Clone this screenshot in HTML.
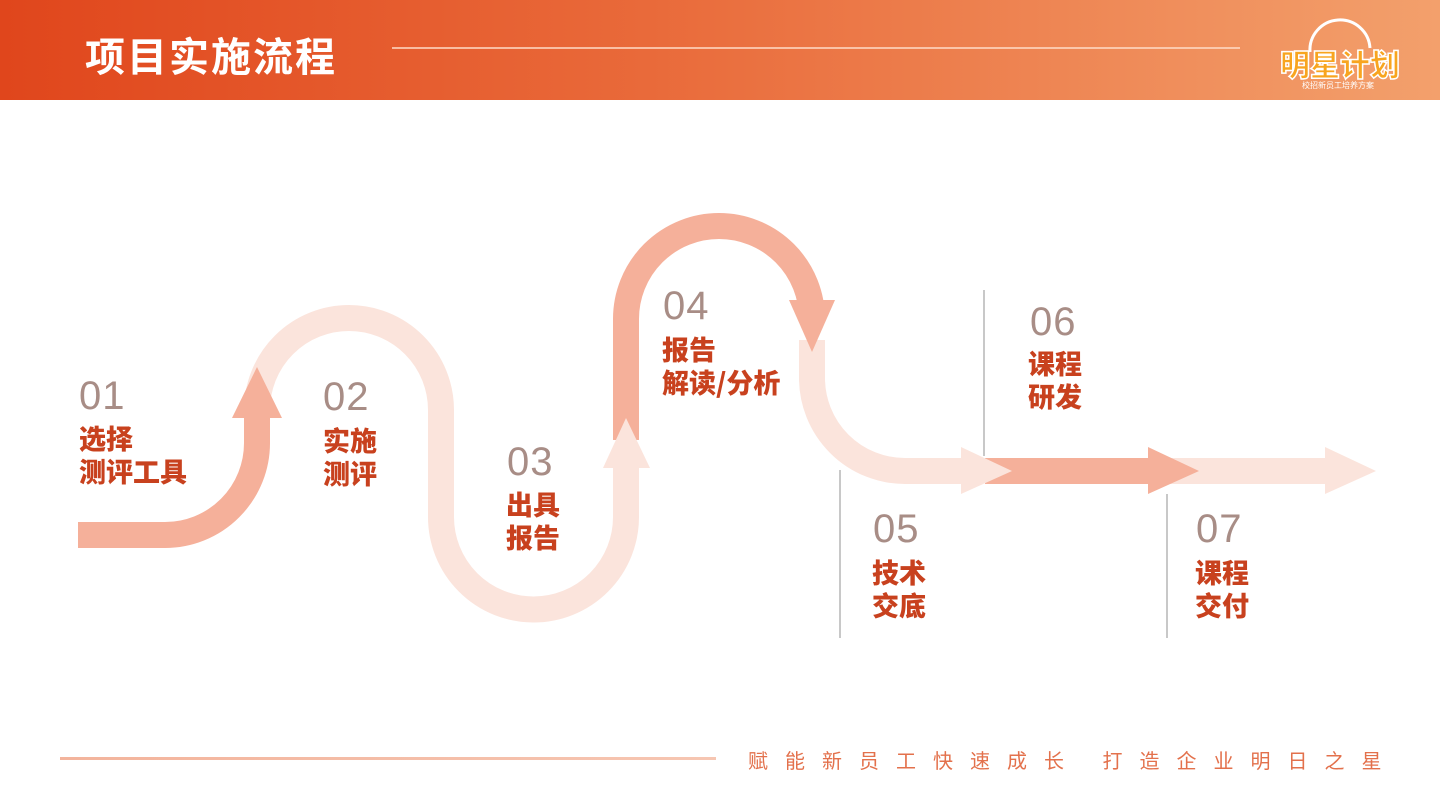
<!DOCTYPE html>
<html><head><meta charset="utf-8">
<style>
html,body{margin:0;padding:0;width:1440px;height:810px;overflow:hidden;background:#fff;font-family:"Liberation Sans","Noto Sans CJK SC",sans-serif;}
.hdr{position:absolute;left:0;top:0;width:1440px;height:100px;background:linear-gradient(90deg,#e0461c 0%,#e96a3a 45%,#f3a06c 100%);}
.title{position:absolute;left:85px;top:25px;color:#fff;font-size:40px;font-weight:bold;letter-spacing:2px;font-family:"Noto Sans CJK SC",sans-serif;}
.hline{position:absolute;left:392px;top:47px;width:848px;height:2px;background:rgba(255,220,200,0.75);}
.num{position:absolute;color:#a88d86;font-size:40px;font-family:"Liberation Sans",sans-serif;font-weight:300;letter-spacing:1px;}
.lbl{position:absolute;color:#c8411e;font-size:27px;font-weight:900;line-height:33px;font-family:"Noto Sans CJK SC",sans-serif;}
.vl{position:absolute;width:2px;background:#c8c8c8;}
.foot{position:absolute;left:748px;top:745px;color:#e3714c;font-size:20px;letter-spacing:17px;font-family:"Noto Sans CJK SC",sans-serif;white-space:nowrap;}
.fline{position:absolute;left:60px;top:757px;width:656px;height:3px;background:linear-gradient(90deg,#f3b49c,#f6c6b2);}
</style></head><body>
<div class="hdr"></div>
<div class="title">项目实施流程</div>
<div class="hline"></div>
<svg style="position:absolute;left:1270px;top:12px" width="140" height="80">
<path d="M40 40 A30 30 0 1 1 100 36" fill="none" stroke="#fff" stroke-width="3"/>
<text x="10" y="64" font-family="Noto Sans CJK SC,sans-serif" font-weight="900" font-size="30" fill="#f8a51f" stroke="#fff" stroke-width="1.5">明星计划</text>
<text x="32" y="76" font-family="Noto Sans CJK SC,sans-serif" font-size="8" fill="#fff">校招新员工培养方案</text>
</svg>
<svg style="position:absolute;left:0;top:0" width="1440" height="810">
<g fill="none" stroke-width="26">
<path d="M257 420 L257 410 A92 92 0 0 1 441 410 L441 517 A92 92 0 0 0 626 517 L626 462" stroke="#fbe4dc"/>
<path d="M812 340 L812 378 A93 93 0 0 0 905 471 L965 471" stroke="#fbe4dc"/>
<path d="M1170 471 L1330 471" stroke="#fbe4dc"/>
<path d="M78 535 L165 535 A92 92 0 0 0 257 443 L257 412" stroke="#f5b09a"/>
<path d="M626 440 L626 319 A93 93 0 0 1 812 319 L812 305" stroke="#f5b09a"/>
<path d="M985 471 L1152 471" stroke="#f5b09a"/>
</g>
<polygon points="232,418 282,418 257,367" fill="#f5b09a"/>
<polygon points="603,468 650,468 626,418" fill="#fbe4dc"/>
<polygon points="789,300 835,300 812,352" fill="#f5b09a"/>
<polygon points="961,447 961,494 1012,471" fill="#fbe4dc"/>
<polygon points="1148,447 1148,494 1199,471" fill="#f5b09a"/>
<polygon points="1325,447 1325,494 1376,471" fill="#fbe4dc"/>
</svg>
<div class="vl" style="left:983px;top:290px;height:166px"></div>
<div class="vl" style="left:839px;top:470px;height:168px"></div>
<div class="vl" style="left:1166px;top:494px;height:144px"></div>
<div class="num" style="left:79px;top:374px">01</div>
<div class="lbl" style="left:79px;top:421px">选择<br>测评工具</div>
<div class="num" style="left:323px;top:375px">02</div>
<div class="lbl" style="left:323px;top:423px">实施<br>测评</div>
<div class="num" style="left:507px;top:440px">03</div>
<div class="lbl" style="left:506px;top:487px">出具<br>报告</div>
<div class="num" style="left:663px;top:284px">04</div>
<div class="lbl" style="left:662px;top:332px">报告<br>解读/分析</div>
<div class="num" style="left:873px;top:507px">05</div>
<div class="lbl" style="left:872px;top:555px">技术<br>交底</div>
<div class="num" style="left:1030px;top:300px">06</div>
<div class="lbl" style="left:1028px;top:346px">课程<br>研发</div>
<div class="num" style="left:1196px;top:507px">07</div>
<div class="lbl" style="left:1195px;top:555px">课程<br>交付</div>
<div class="fline"></div>
<div class="foot">赋能新员工快速成长 打造企业明日之星</div>
</body></html>
